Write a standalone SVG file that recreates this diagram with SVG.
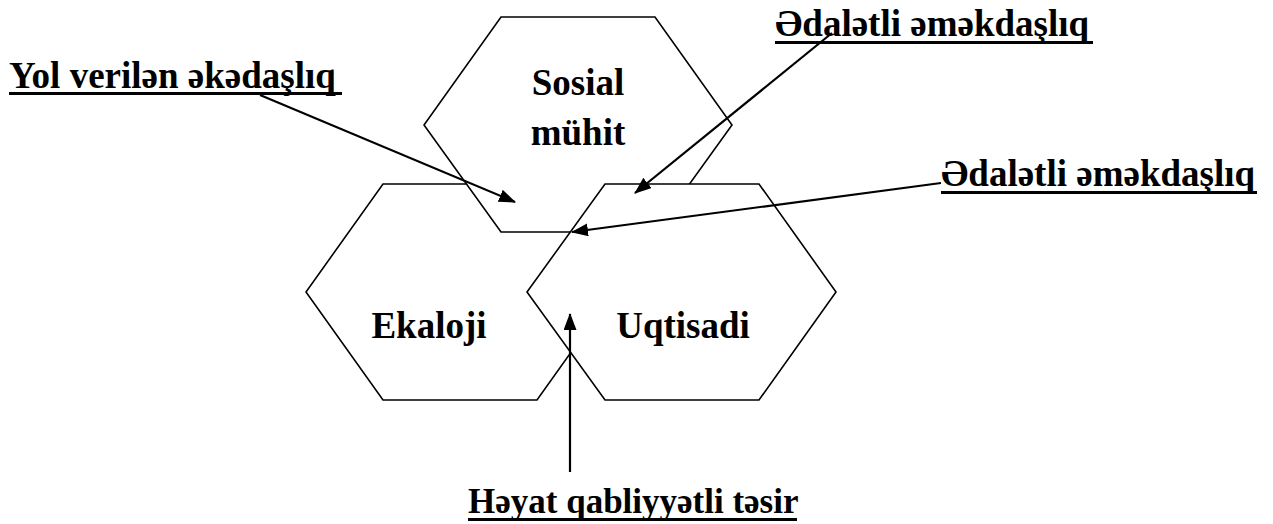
<svg xmlns="http://www.w3.org/2000/svg" width="1273" height="524" viewBox="0 0 1273 524">
<style>
.hex{fill:#fff;stroke:#000;stroke-width:1.6;stroke-linejoin:miter}
.t{font-family:"Liberation Serif","Times New Roman",serif;font-weight:bold;font-size:37px;fill:#000}
.mid{text-anchor:middle}
.ul{fill:#000}
.arr{stroke:#000;stroke-width:2.2;fill:none;marker-end:url(#ah)}
</style>
<defs>
<marker id="ah" markerUnits="userSpaceOnUse" markerWidth="18" markerHeight="14" refX="16" refY="6.5" orient="auto">
<path d="M0,0 L17,6.5 L0,13 z" fill="#000"/>
</marker>
</defs>
<rect width="1273" height="524" fill="#fff"/>
<g id="node-ekaloji">
<polygon class="hex" points="383,184 537,184 614,292 537,400 383,400 306,292"/>
<text class="t mid" x="429" y="338">Ekaloji</text>
</g>
<g id="node-sosial">
<polygon class="hex" points="501,17 655,17 732,125 655,232 501,232 424,125"/>
<text class="t mid" x="578" y="95">Sosial</text>
<text class="t mid" x="578" y="145">mühit</text>
</g>
<g id="node-uqtisadi">
<polygon class="hex" points="605,184 759,184 836,292 759,400 605,400 527,292"/>
<text class="t mid" x="683" y="338">Uqtisadi</text>
</g>
<g id="labels">
<text class="t" x="9" y="88">Yol verilən əkədaşlıq</text>
<rect class="ul" x="9" y="92" width="333" height="3"/>
<text class="t" x="775" y="36">Ədalətli əməkdaşlıq</text>
<rect class="ul" x="775" y="41" width="318" height="3"/>
<text class="t" x="941" y="186">Ədalətli əməkdaşlıq</text>
<rect class="ul" x="941" y="191" width="316" height="3"/>
<text class="t" x="468" y="513" style="font-size:35px">Həyat qabliyyətli təsir</text>
<rect class="ul" x="468" y="518" width="329" height="3"/>
</g>
<g id="connectors">
<line class="arr" x1="260" y1="95" x2="515" y2="202"/>
<line class="arr" x1="832" y1="33" x2="635" y2="193"/>
<line class="arr" x1="941" y1="183" x2="572" y2="232"/>
<line class="arr" x1="570" y1="472" x2="570" y2="314"/>
</g>
</svg>
